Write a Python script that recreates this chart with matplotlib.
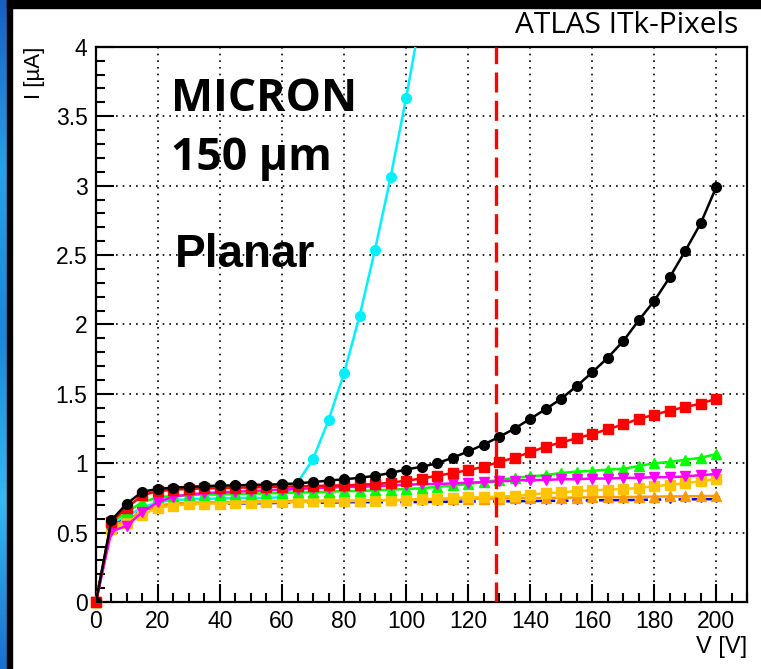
import numpy as np
import matplotlib.pyplot as plt
from matplotlib.ticker import MultipleLocator

# Tensión de polarización (V)
V = np.arange(0, 205, 5)

# Corrientes de fuga (uA)
I_black = [0, 0.59, 0.71, 0.795, 0.815, 0.825, 0.83, 0.835, 0.84, 0.84, 0.845,
           0.845, 0.85, 0.855, 0.865, 0.875, 0.885, 0.895, 0.91, 0.93, 0.955,
           0.975, 1.00, 1.04, 1.085, 1.135, 1.19, 1.25, 1.32, 1.39, 1.465,
           1.556, 1.655, 1.76, 1.88, 2.03, 2.17, 2.34, 2.53, 2.73, 2.99]
I_red = [0, 0.58, 0.68, 0.77, 0.80, 0.81, 0.815, 0.82, 0.82, 0.825, 0.825,
         0.83, 0.83, 0.835, 0.835, 0.84, 0.84, 0.845, 0.85, 0.86, 0.875,
         0.89, 0.91, 0.93, 0.95, 0.975, 1.01, 1.04, 1.08, 1.12, 1.15,
         1.18, 1.21, 1.245, 1.28, 1.32, 1.35, 1.38, 1.405, 1.43, 1.465]
I_green = [0, 0.57, 0.65, 0.72, 0.755, 0.765, 0.77, 0.775, 0.775, 0.78, 0.78,
           0.785, 0.785, 0.79, 0.79, 0.795, 0.80, 0.80, 0.805, 0.81, 0.815,
           0.82, 0.83, 0.84, 0.85, 0.865, 0.88, 0.895, 0.905, 0.915, 0.93,
           0.94, 0.945, 0.955, 0.96, 0.98, 1.0, 1.01, 1.025, 1.04, 1.066]
I_magenta = [0, 0.51, 0.55, 0.65, 0.72, 0.76, 0.775, 0.785, 0.79, 0.795, 0.80,
             0.805, 0.81, 0.815, 0.82, 0.825, 0.83, 0.83, 0.835, 0.84, 0.845,
             0.85, 0.85, 0.855, 0.86, 0.865, 0.87, 0.875, 0.88, 0.88, 0.885,
             0.885, 0.89, 0.89, 0.895, 0.895, 0.90, 0.90, 0.905, 0.915, 0.922]
I_gold = [0, 0.53, 0.57, 0.63, 0.68, 0.695, 0.705, 0.71, 0.71, 0.715, 0.715,
          0.72, 0.72, 0.72, 0.725, 0.725, 0.725, 0.73, 0.73, 0.735, 0.735,
          0.74, 0.745, 0.75, 0.755, 0.755, 0.76, 0.765, 0.775, 0.785, 0.79,
          0.80, 0.805, 0.81, 0.815, 0.822, 0.835, 0.845, 0.856, 0.872, 0.886]
I_orange = [0, 0.55, 0.59, 0.66, 0.695, 0.71, 0.715, 0.72, 0.72, 0.72, 0.725,
            0.725, 0.725, 0.73, 0.73, 0.73, 0.73, 0.73, 0.735, 0.735, 0.735,
            0.74, 0.74, 0.745, 0.745, 0.745, 0.745, 0.75, 0.75, 0.75, 0.752,
            0.753, 0.755, 0.756, 0.757, 0.758, 0.76, 0.761, 0.762, 0.763, 0.765]
I_blue = [0, 0.55, 0.60, 0.66, 0.69, 0.70, 0.705, 0.71, 0.71, 0.71, 0.712,
          0.713, 0.715, 0.715, 0.716, 0.717, 0.72, 0.72, 0.72, 0.72, 0.72,
          0.721, 0.722, 0.723, 0.725, 0.725, 0.725, 0.727, 0.728, 0.729, 0.73,
          0.731, 0.733, 0.734, 0.735, 0.736, 0.738, 0.739, 0.74, 0.741, 0.742]

# Sensor con ruptura temprana
V_cyan = np.arange(0, 110, 5)
I_cyan = [0, 0.55, 0.62, 0.68, 0.72, 0.735, 0.74, 0.745, 0.745, 0.75, 0.75,
          0.75, 0.755, 0.86, 1.03, 1.31, 1.65, 2.06, 2.54, 3.06, 3.63, 4.25]

V_cut = 129  # línea vertical discontinua

plt.rcParams['font.family'] = ['Liberation Sans', 'DejaVu Sans']

fig = plt.figure(figsize=(7.61, 6.69), dpi=100)
ax = fig.add_axes([0.126, 0.100, 0.856, 0.830])

# Borde de la diapositiva
band = fig.add_axes([0, 0, 7 / 761, 1])
grad = np.linspace(0, 1, 200).reshape(-1, 1)
band.imshow(grad, aspect='auto', cmap=plt.matplotlib.colors.LinearSegmentedColormap.from_list(
    'b', ['#1a5fc0', '#2aa0e6', '#1c86d8', '#38b8f0', '#1a70cc']))
band.axis('off')
fig.patches.append(plt.Rectangle((7 / 761, 0), 5 / 761, 1, transform=fig.transFigure,
                                 color='black', zorder=5))
fig.patches.append(plt.Rectangle((7 / 761, 1 - 8 / 669), 1, 8 / 669, transform=fig.transFigure,
                                 color='black', zorder=5))

lw = 1.8
ax.plot(V_cyan, I_cyan, color='#00f0ff', marker='o', ms=7, lw=lw, zorder=3)
ax.plot(V, I_blue, color='#0000ff', marker='v', ms=4.5, lw=lw, ls='--', zorder=3, clip_on=False)
ax.plot(V, I_orange, color='#ff9900', marker='^', ms=7.5, lw=lw, zorder=3, clip_on=False)
ax.plot(V, I_gold, color='#ffc400', marker='s', ms=7, lw=lw, zorder=3, clip_on=False)
ax.plot(V, I_green, color='#00ff00', marker='^', ms=7.5, lw=lw, zorder=3, clip_on=False)
ax.plot(V, I_magenta, color='#ff00ff', marker='v', ms=7.5, lw=lw, zorder=3, clip_on=False)
ax.plot(V, I_red, color='#ff0000', marker='s', ms=6.5, lw=lw, zorder=3, clip_on=False)
ax.plot(V, I_black, color='black', marker='o', ms=7, lw=lw, zorder=3)

ax.axvline(V_cut, color='#ff0000', lw=2.4, ls=(0, (6, 2.5)), zorder=4)

ax.set_xlim(0, 210)
ax.set_ylim(0, 4)
ax.xaxis.set_major_locator(MultipleLocator(20))
ax.xaxis.set_minor_locator(MultipleLocator(5))
ax.yaxis.set_major_locator(MultipleLocator(0.5))
ax.yaxis.set_minor_locator(MultipleLocator(0.1))
ax.yaxis.set_major_formatter(plt.FuncFormatter(lambda v, p: f'{v:g}'))

ax.tick_params(which='both', direction='in', top=False, right=False,
               labelsize=16.5, width=1.5)
ax.tick_params(which='major', length=13, pad=6)
ax.tick_params(which='minor', length=6.5)
ax.grid(True, which='major', color='black', lw=1.2, ls=(0, (1, 3)))
for s in ax.spines.values():
    s.set_linewidth(1.6)

ax.set_xlabel('V [V]', fontsize=17, loc='right', labelpad=2)
ax.set_ylabel('I [µA]', fontsize=16, loc='top', labelpad=8)

fig.text(0.970, 0.940, 'ATLAS ITk-Pixels', ha='right', va='bottom',
         fontsize=21.5, family='Open Sans')
ax.text(0.116, 0.905, 'MICRON', transform=ax.transAxes, fontsize=32,
        fontweight='bold', family='Open Sans', va='center')
ax.text(0.116, 0.798, '150 µm', transform=ax.transAxes, fontsize=32,
        fontweight='bold', family='Open Sans', va='center')
ax.text(0.121, 0.626, 'Planar', transform=ax.transAxes, fontsize=33,
        fontweight='bold', va='center')

fig.savefig('out.png', dpi=100)
